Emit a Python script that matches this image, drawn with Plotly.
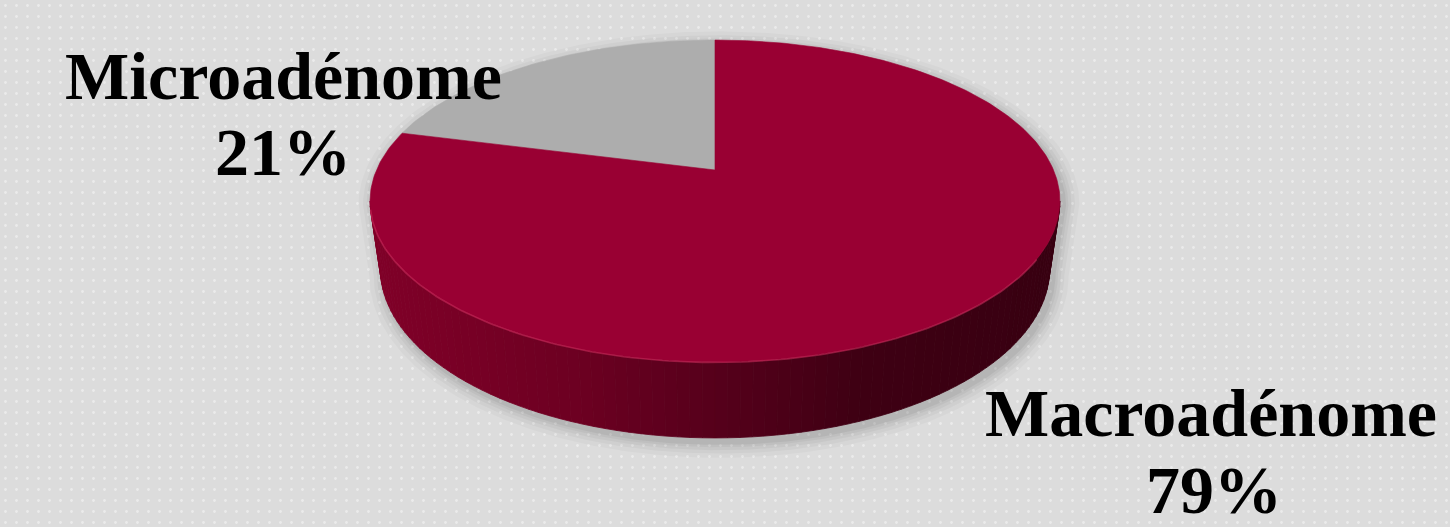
import numpy as np
import plotly.graph_objects as go

# ---- data ----
labels = ["Microadénome", "Macroadénome"]
values = [21, 79]
pct_text = ["21%", "79%"]
top_colors = ["#adadad", "#990033"]

# ---- canvas / geometry (pixel-like axes) ----
W, H = 1450, 527
CX, CY = 715.0, 170.0        # projected pie centre
A, B, K = 338.5, 155.0, 0.1925  # projective ellipse parameters
S, D = 0.97, 66.0            # bottom-face shrink and thickness


def top_pt(phi):
    u, v = np.cos(phi), np.sin(phi)
    w = 1 + K * v
    return CX + A * u / w, CY - B * v / w


def bot_pt(phi):
    u, v = np.cos(phi), np.sin(phi)
    w = 1 + K * v
    return CX + S * A * u / w, CY - S * B * v / w + D / w


fig = go.Figure()

# background with dot pattern
fig.add_trace(go.Scatter(
    x=[0, W, W, 0, 0], y=[0, 0, H, H, 0], mode="lines", fill="toself",
    line=dict(width=0), fillcolor="#dcdcdc",
    fillpattern=dict(shape=".", fgcolor="#fafafa", bgcolor="#dcdcdc",
                     size=11, solidity=0.05),
    hoverinfo="skip", showlegend=False))

# outline of whole solid (for shadow)
phL = np.pi + np.arcsin(K)
phR = 2 * np.pi - np.arcsin(K)
far = np.linspace(phR - 2 * np.pi, phL, 200)
near = np.linspace(phL, phR, 200)
ox = np.concatenate([top_pt(far)[0], bot_pt(near)[0]])
oy = np.concatenate([top_pt(far)[1], bot_pt(near)[1]])
sc_x, sc_y = CX, CY + 60
for e, a in [(0.045, 0.025), (0.032, 0.03), (0.022, 0.035), (0.013, 0.04), (0.006, 0.05)]:
    fig.add_trace(go.Scatter(
        x=sc_x + (ox - sc_x) * (1 + e) + 4, y=sc_y + (oy - sc_y) * (1 + e * 1.6) + 5,
        mode="lines", fill="toself", line=dict(width=0),
        fillcolor=f"rgba(0,0,0,{a})", hoverinfo="skip", showlegend=False))

# side wall strips with shading
def side_color(x):
    t = (x - 370.0) / 690.0
    stops = [(0.0, (128, 0, 40)), (0.28, (110, 0, 34)), (0.5, (86, 0, 27)),
             (0.72, (62, 0, 19)), (1.0, (56, 0, 17))]
    t = min(max(t, 0), 1)
    for (t0, c0), (t1, c1) in zip(stops[:-1], stops[1:]):
        if t <= t1:
            f = (t - t0) / (t1 - t0)
            return "rgb(%d,%d,%d)" % tuple(round(c0[i] + f * (c1[i] - c0[i])) for i in range(3))
    return "rgb(56,0,17)"

edges = np.linspace(phL, phR, 91)
for p0, p1 in zip(edges[:-1], edges[1:]):
    ps = np.linspace(p0, p1, 4)
    tx, ty = top_pt(ps)
    bx, by = bot_pt(ps[::-1])
    col = side_color(top_pt((p0 + p1) / 2)[0])
    fig.add_trace(go.Scatter(
        x=np.concatenate([tx, bx, tx[:1]]), y=np.concatenate([ty, by, ty[:1]]),
        mode="lines", fill="toself", line=dict(width=0.8, color=col),
        fillcolor=col, hoverinfo="skip", showlegend=False))

# top face slices
start = np.pi / 2
total = float(sum(values))
for lab, val, col in zip(labels, values, top_colors):
    span = 2 * np.pi * val / total
    ph = np.linspace(start, start + span, max(int(val * 4), 20))
    px, py = top_pt(ph)
    fig.add_trace(go.Scatter(
        x=np.concatenate([[CX], px, [CX]]), y=np.concatenate([[CY], py, [CY]]),
        mode="lines", fill="toself", line=dict(width=0.6, color=col),
        fillcolor=col, name=lab, hoverinfo="skip", showlegend=False))
    start += span

# rim highlight on the front edge
hp = np.linspace(phL + 0.05, phR - 0.35, 150)
hx, hy = top_pt(hp)
fig.add_trace(go.Scatter(x=hx, y=hy + 0.5, mode="lines",
                         line=dict(width=1.6, color="rgba(205,45,95,0.55)"),
                         hoverinfo="skip", showlegend=False))

# labels
font = dict(family="Liberation Serif", size=68, color="#000000", weight=700)
ann_pos = {"Microadénome": [(283, 76), (283, 152)],
           "Macroadénome": [(1211, 413), (1214, 490)]}
for lab, pt in zip(labels, pct_text):
    (x1, y1), (x2, y2) = ann_pos[lab]
    fig.add_annotation(x=x1, y=y1, xref="x", yref="y", text=lab, showarrow=False,
                       font=font, xanchor="center", yanchor="middle")
    fig.add_annotation(x=x2, y=y2, xref="x", yref="y", text=pt, showarrow=False,
                       font=font, xanchor="center", yanchor="middle")

fig.update_layout(
    width=W, height=H, margin=dict(l=0, r=0, t=0, b=0),
    paper_bgcolor="#dcdcdc", plot_bgcolor="#dcdcdc",
    xaxis=dict(range=[0, W], visible=False, fixedrange=True),
    yaxis=dict(range=[H, 0], visible=False, fixedrange=True),
    showlegend=False)

fig.write_html("out.html")
